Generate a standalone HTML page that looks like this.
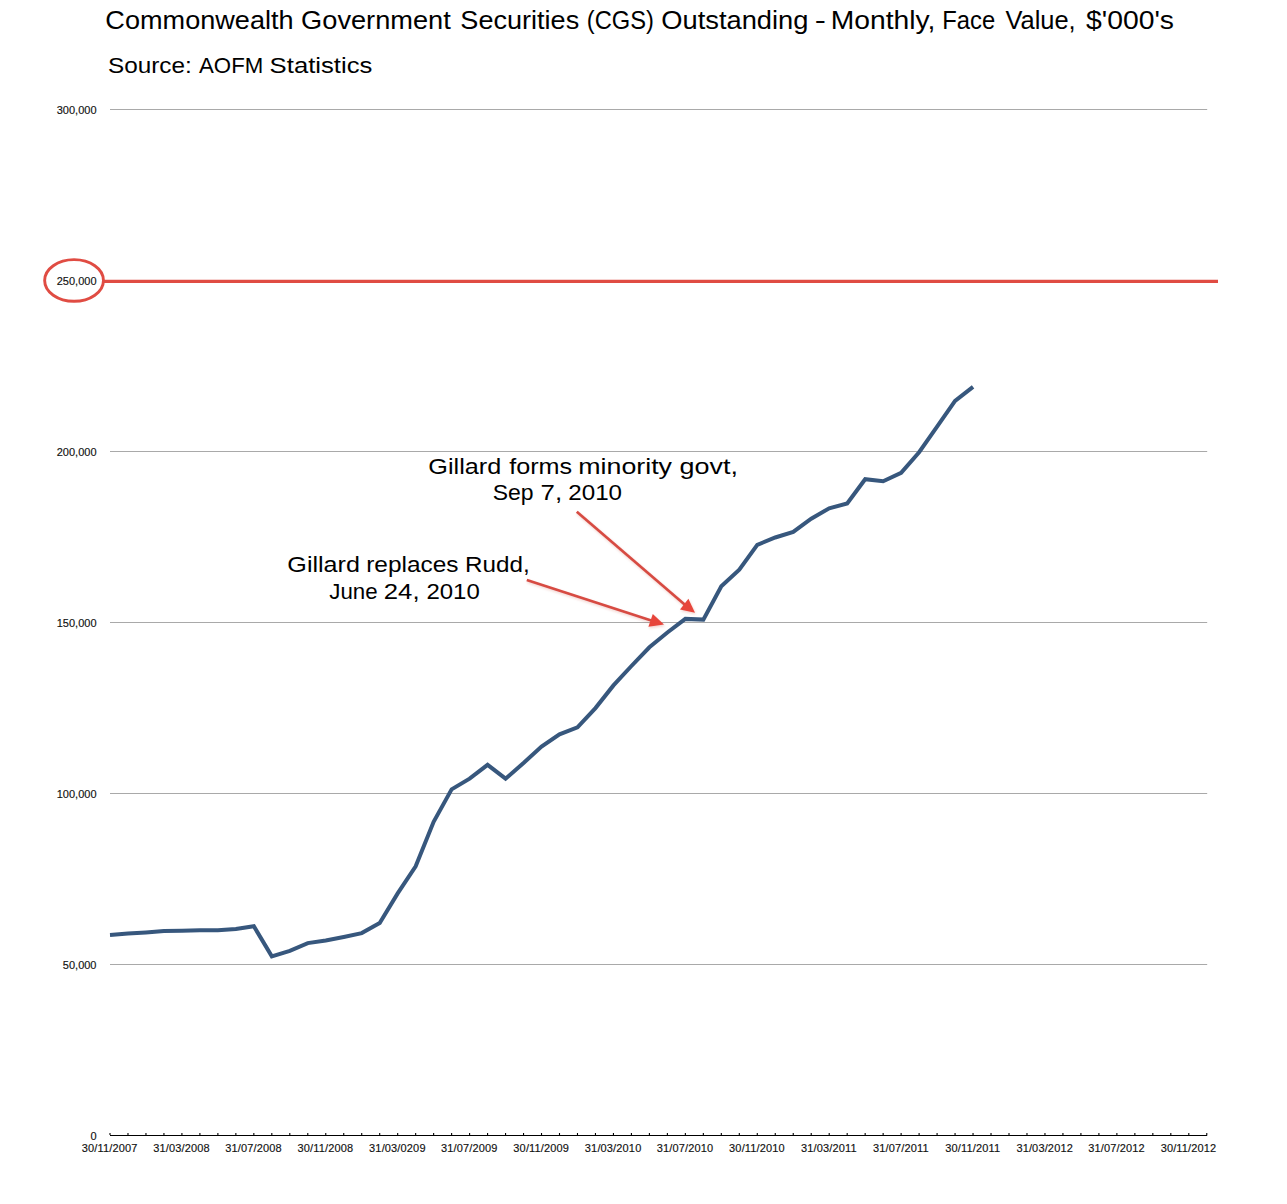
<!DOCTYPE html>
<html><head><meta charset="utf-8"><style>
html,body{margin:0;padding:0;background:#fff;}
body{width:1287px;height:1204px;overflow:hidden;}
svg{display:block;}
text{font-family:"Liberation Sans",sans-serif;}
</style></head><body>
<svg width="1287" height="1204" viewBox="0 0 1287 1204">
<rect width="1287" height="1204" fill="#fff"/>
<line x1="110" y1="109.5" x2="1207.2" y2="109.5" stroke="#a9a9a9" stroke-width="1"/>
<line x1="110" y1="451.5" x2="1207.2" y2="451.5" stroke="#a9a9a9" stroke-width="1"/>
<line x1="110" y1="622.5" x2="1207.2" y2="622.5" stroke="#a9a9a9" stroke-width="1"/>
<line x1="110" y1="793.5" x2="1207.2" y2="793.5" stroke="#a9a9a9" stroke-width="1"/>
<line x1="110" y1="964.5" x2="1207.2" y2="964.5" stroke="#a9a9a9" stroke-width="1"/>
<text x="96.5" y="113.9" text-anchor="end" font-size="11" fill="#111" stroke="#111" stroke-width="0.15">300,000</text>
<text x="96.5" y="284.8" text-anchor="end" font-size="11" fill="#111" stroke="#111" stroke-width="0.15">250,000</text>
<text x="96.5" y="455.9" text-anchor="end" font-size="11" fill="#111" stroke="#111" stroke-width="0.15">200,000</text>
<text x="96.5" y="626.9" text-anchor="end" font-size="11" fill="#111" stroke="#111" stroke-width="0.15">150,000</text>
<text x="96.5" y="797.9" text-anchor="end" font-size="11" fill="#111" stroke="#111" stroke-width="0.15">100,000</text>
<text x="96.5" y="968.9" text-anchor="end" font-size="11" fill="#111" stroke="#111" stroke-width="0.15">50,000</text>
<text x="96.5" y="1139.8" text-anchor="end" font-size="11" fill="#111" stroke="#111" stroke-width="0.15">0</text>
<line x1="110" y1="1135.5" x2="1207.2" y2="1135.5" stroke="#000" stroke-width="1.1"/>
<path d="M110.00 1133V1135 M127.98 1133V1135 M145.96 1133V1135 M163.94 1133V1135 M181.92 1133V1135 M199.90 1133V1135 M217.88 1133V1135 M235.86 1133V1135 M253.84 1133V1135 M271.82 1133V1135 M289.80 1133V1135 M307.78 1133V1135 M325.76 1133V1135 M343.74 1133V1135 M361.72 1133V1135 M379.70 1133V1135 M397.68 1133V1135 M415.66 1133V1135 M433.64 1133V1135 M451.62 1133V1135 M469.60 1133V1135 M487.58 1133V1135 M505.56 1133V1135 M523.54 1133V1135 M541.52 1133V1135 M559.50 1133V1135 M577.48 1133V1135 M595.46 1133V1135 M613.44 1133V1135 M631.42 1133V1135 M649.40 1133V1135 M667.38 1133V1135 M685.36 1133V1135 M703.34 1133V1135 M721.32 1133V1135 M739.30 1133V1135 M757.28 1133V1135 M775.26 1133V1135 M793.24 1133V1135 M811.22 1133V1135 M829.20 1133V1135 M847.18 1133V1135 M865.16 1133V1135 M883.14 1133V1135 M901.12 1133V1135 M919.10 1133V1135 M937.08 1133V1135 M955.06 1133V1135 M973.04 1133V1135 M991.02 1133V1135 M1009.00 1133V1135 M1026.98 1133V1135 M1044.96 1133V1135 M1062.94 1133V1135 M1080.92 1133V1135 M1098.90 1133V1135 M1116.88 1133V1135 M1134.86 1133V1135 M1152.84 1133V1135 M1170.82 1133V1135 M1188.80 1133V1135 M1206.78 1133V1135" stroke="#000" stroke-width="1.1" fill="none"/>
<text x="109.70" y="1151.8" text-anchor="middle" font-size="11" letter-spacing="0.15" fill="#111" stroke="#111" stroke-width="0.15">30/11/2007</text>
<text x="181.62" y="1151.8" text-anchor="middle" font-size="11" letter-spacing="0.15" fill="#111" stroke="#111" stroke-width="0.15">31/03/2008</text>
<text x="253.54" y="1151.8" text-anchor="middle" font-size="11" letter-spacing="0.15" fill="#111" stroke="#111" stroke-width="0.15">31/07/2008</text>
<text x="325.46" y="1151.8" text-anchor="middle" font-size="11" letter-spacing="0.15" fill="#111" stroke="#111" stroke-width="0.15">30/11/2008</text>
<text x="397.38" y="1151.8" text-anchor="middle" font-size="11" letter-spacing="0.15" fill="#111" stroke="#111" stroke-width="0.15">31/03/0209</text>
<text x="469.30" y="1151.8" text-anchor="middle" font-size="11" letter-spacing="0.15" fill="#111" stroke="#111" stroke-width="0.15">31/07/2009</text>
<text x="541.22" y="1151.8" text-anchor="middle" font-size="11" letter-spacing="0.15" fill="#111" stroke="#111" stroke-width="0.15">30/11/2009</text>
<text x="613.14" y="1151.8" text-anchor="middle" font-size="11" letter-spacing="0.15" fill="#111" stroke="#111" stroke-width="0.15">31/03/2010</text>
<text x="685.06" y="1151.8" text-anchor="middle" font-size="11" letter-spacing="0.15" fill="#111" stroke="#111" stroke-width="0.15">31/07/2010</text>
<text x="756.98" y="1151.8" text-anchor="middle" font-size="11" letter-spacing="0.15" fill="#111" stroke="#111" stroke-width="0.15">30/11/2010</text>
<text x="828.90" y="1151.8" text-anchor="middle" font-size="11" letter-spacing="0.15" fill="#111" stroke="#111" stroke-width="0.15">31/03/2011</text>
<text x="900.82" y="1151.8" text-anchor="middle" font-size="11" letter-spacing="0.15" fill="#111" stroke="#111" stroke-width="0.15">31/07/2011</text>
<text x="972.74" y="1151.8" text-anchor="middle" font-size="11" letter-spacing="0.15" fill="#111" stroke="#111" stroke-width="0.15">30/11/2011</text>
<text x="1044.66" y="1151.8" text-anchor="middle" font-size="11" letter-spacing="0.15" fill="#111" stroke="#111" stroke-width="0.15">31/03/2012</text>
<text x="1116.58" y="1151.8" text-anchor="middle" font-size="11" letter-spacing="0.15" fill="#111" stroke="#111" stroke-width="0.15">31/07/2012</text>
<text x="1188.50" y="1151.8" text-anchor="middle" font-size="11" letter-spacing="0.15" fill="#111" stroke="#111" stroke-width="0.15">30/11/2012</text>
<polyline points="110.00,934.9 127.98,933.6 145.96,932.5 163.94,931.1 181.92,930.8 199.90,930.2 217.88,930.2 235.86,929 253.84,926.3 271.82,956.3 289.80,950.8 307.78,943.1 325.76,940.5 343.74,937 361.72,933.1 379.70,923 397.68,893.4 415.66,866.3 433.64,821.8 451.62,789.4 469.60,778.7 487.58,764.8 505.56,778.7 523.54,763 541.52,746.5 559.50,734.3 577.48,727.3 595.46,708.1 613.44,685.4 631.42,666 649.40,647.3 667.38,632.5 685.36,618.9 703.34,619.6 721.32,586.3 739.30,569.7 757.28,544.8 775.26,537.5 793.24,531.9 811.22,518.7 829.20,508.3 847.18,503.4 865.16,479.2 883.14,481.3 901.12,472.9 919.10,452.2 937.08,426.6 955.06,400.8 973.04,386.9" fill="none" stroke="#37577d" stroke-width="4" stroke-linejoin="miter" stroke-linecap="butt"/>
<line x1="104" y1="281.4" x2="1218" y2="281.4" stroke="#e04c43" stroke-width="3.2"/>
<ellipse cx="74.05" cy="280.45" rx="29.4" ry="20.85" fill="none" stroke="#e04c43" stroke-width="2.9"/>
<defs><filter id="sh" x="-20%" y="-20%" width="140%" height="140%"><feDropShadow dx="0.8" dy="1.5" stdDeviation="1.2" flood-color="#c03020" flood-opacity="0.22"/></filter></defs>
<g filter="url(#sh)">
<line x1="576.8" y1="511.7" x2="685.5" y2="605.2" stroke="#d74b43" stroke-width="2.7"/>
<polygon points="688.4,598.7 680,609.6 695,612.8" fill="#e7453a"/>
<line x1="526.8" y1="580" x2="652" y2="620.7" stroke="#d74b43" stroke-width="2.7"/>
<polygon points="652.8,613.9 648.4,626.7 664,624.6" fill="#e7453a"/>
</g>
<text x="105.39" y="29.2" font-size="25.9" textLength="188.21" lengthAdjust="spacingAndGlyphs" fill="#000">Commonwealth</text>
<text x="301.09" y="29.2" font-size="25.9" textLength="149.74" lengthAdjust="spacingAndGlyphs" fill="#000">Government</text>
<text x="460.39" y="29.2" font-size="25.9" textLength="118.79" lengthAdjust="spacingAndGlyphs" fill="#000">Securities</text>
<text x="586.83" y="29.2" font-size="25.9" textLength="67.15" lengthAdjust="spacingAndGlyphs" fill="#000">(CGS)</text>
<text x="661.28" y="29.2" font-size="25.9" textLength="147.13" lengthAdjust="spacingAndGlyphs" fill="#000">Outstanding</text>
<text x="814.81" y="29.2" font-size="25.9" textLength="11.15" lengthAdjust="spacingAndGlyphs" fill="#000">-</text>
<text x="830.72" y="29.2" font-size="25.9" textLength="104.77" lengthAdjust="spacingAndGlyphs" fill="#000">Monthly,</text>
<text x="942.26" y="29.2" font-size="25.9" textLength="52.92" lengthAdjust="spacingAndGlyphs" fill="#000">Face</text>
<text x="1005.4" y="29.2" font-size="25.9" textLength="70.31" lengthAdjust="spacingAndGlyphs" fill="#000">Value,</text>
<text x="1086.03" y="29.2" font-size="25.9" textLength="88.0" lengthAdjust="spacingAndGlyphs" fill="#000">$'000's</text>
<text x="108.0" y="72.8" font-size="22.2" textLength="83.75" lengthAdjust="spacingAndGlyphs" fill="#000">Source:</text>
<text x="199.0" y="72.8" font-size="22.2" textLength="64.25" lengthAdjust="spacingAndGlyphs" fill="#000">AOFM</text>
<text x="269.64" y="72.8" font-size="22.2" textLength="102.76" lengthAdjust="spacingAndGlyphs" fill="#000">Statistics</text>
<text x="428.35" y="473.8" font-size="22" textLength="72.87" lengthAdjust="spacingAndGlyphs" fill="#000">Gillard</text>
<text x="509.21" y="473.8" font-size="22" textLength="62.94" lengthAdjust="spacingAndGlyphs" fill="#000">forms</text>
<text x="578.27" y="473.8" font-size="22" textLength="93.74" lengthAdjust="spacingAndGlyphs" fill="#000">minority</text>
<text x="679.48" y="473.8" font-size="22" textLength="58.41" lengthAdjust="spacingAndGlyphs" fill="#000">govt,</text>
<text x="492.66" y="500.3" font-size="22" textLength="40.89" lengthAdjust="spacingAndGlyphs" fill="#000">Sep</text>
<text x="540.53" y="500.3" font-size="22" textLength="21.56" lengthAdjust="spacingAndGlyphs" fill="#000">7,</text>
<text x="568.3" y="500.3" font-size="22" textLength="53.77" lengthAdjust="spacingAndGlyphs" fill="#000">2010</text>
<text x="287.36" y="571.6" font-size="22" textLength="72.56" lengthAdjust="spacingAndGlyphs" fill="#000">Gillard</text>
<text x="366.24" y="571.6" font-size="22" textLength="92.29" lengthAdjust="spacingAndGlyphs" fill="#000">replaces</text>
<text x="464.97" y="571.6" font-size="22" textLength="64.7" lengthAdjust="spacingAndGlyphs" fill="#000">Rudd,</text>
<text x="329.25" y="599.1" font-size="22" textLength="48.33" lengthAdjust="spacingAndGlyphs" fill="#000">June</text>
<text x="383.83" y="599.1" font-size="22" textLength="35.72" lengthAdjust="spacingAndGlyphs" fill="#000">24,</text>
<text x="426.41" y="599.1" font-size="22" textLength="53.36" lengthAdjust="spacingAndGlyphs" fill="#000">2010</text>
</svg>
</body></html>
